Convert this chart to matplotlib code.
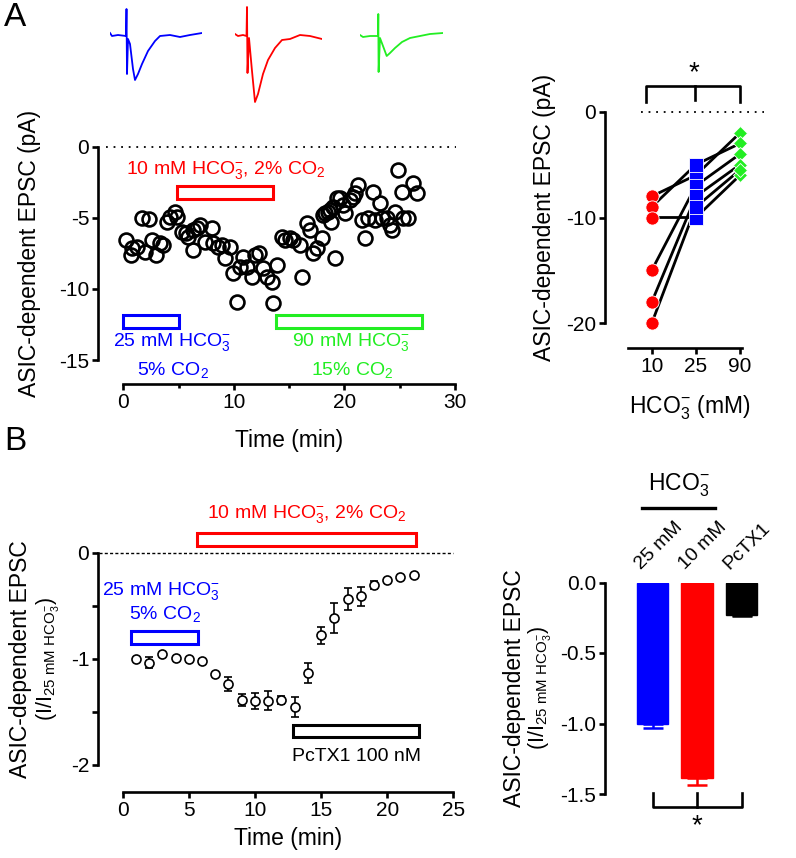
import numpy as np
import matplotlib.pyplot as plt
from matplotlib.patches import Rectangle
from matplotlib.ticker import MultipleLocator, FixedLocator, FormatStrFormatter

plt.rcParams['font.family'] = 'Liberation Sans'
plt.rcParams['mathtext.fontset'] = 'custom'
plt.rcParams['mathtext.rm'] = 'Liberation Sans'
plt.rcParams['mathtext.it'] = 'Liberation Sans:italic'
plt.rcParams['mathtext.default'] = 'regular'
plt.rcParams['axes.unicode_minus'] = False

BLUE = '#0000ff'
RED = '#ff0000'
GREEN = '#22ee22'
HCO3 = r'HCO$_3^{-}$'

# ---- Panel A: example traces (ms, pA) ----
trace_t_25 = [0, 2, 8, 16, 16.5, 17, 18, 20, 23, 25, 28, 32, 38, 45, 50, 60, 70, 80, 92]
trace_i_25 = [3, 0, 1, 0, 27, -38, -3, -8, -33, -44, -38, -28, -15, -5, 0, 1, -1, 1, 3]
trace_t_10 = [0, 3, 8, 11.5, 12, 12.5, 14, 17, 20, 23, 28, 33, 40, 47, 55, 65, 75, 87]
trace_i_10 = [2, 0, 1, 0, 29, -37, -2, -35, -66, -58, -38, -24, -12, -4, -3, 1, 0, -3]
trace_t_90 = [0, 3, 10, 18, 18.3, 18.6, 20, 23, 26.7, 30, 35, 42, 50, 60, 70, 83]
trace_i_90 = [1, -1, 0, 0, 22, -36, -2, -10, -20, -17, -12, -6, -2, 0, 2, 3]

# ---- Panel A: time course of one cell ----
time_a = [0.24, 0.67, 0.76, 1.21, 1.66, 1.96, 2.35, 2.57, 2.96, 3.32, 3.62, 3.92, 4.22, 4.67,
          4.88, 5.28, 5.67, 5.88, 6.27, 6.33, 6.64, 6.93, 7.39, 7.99, 8.14, 8.59, 8.9, 9.2,
          9.65, 9.95, 10.25, 10.55, 10.85, 11.16, 11.61, 11.9, 12.3, 12.66, 12.97, 13.42,
          13.56, 13.87, 14.32, 14.62, 15.07, 15.37, 15.98, 16.13, 16.58, 16.88, 17.18, 17.49,
          17.94, 18.08, 18.24, 18.54, 18.69, 18.75, 18.99, 19.14, 19.29, 19.59, 19.89, 20.05,
          20.5, 20.8, 20.95, 21.25, 21.56, 21.85, 22.15, 22.6, 22.76, 23.21, 23.36, 23.82,
          24.1, 24.27, 24.57, 24.86, 25.17, 25.32, 25.77, 26.22, 26.53]
epsc_a = [-6.56, -7.62, -7.14, -7.03, -5.04, -7.38, -5.11, -6.56, -7.62, -6.79, -6.91, -5.27,
          -4.92, -4.57, -4.92, -5.98, -6.09, -6.33, -7.26, -5.86, -5.74, -5.51, -6.68, -5.74,
          -6.79, -7.03, -6.91, -7.85, -7.03, -8.9, -10.9, -8.44, -7.74, -8.44, -9.14, -7.62,
          -7.5, -8.55, -9.14, -9.49, -11.01, -8.32, -6.33, -6.56, -6.44, -6.56, -6.91, -9.14,
          -5.39, -5.86, -7.5, -7.14, -6.44, -4.8, -4.68, -4.57, -4.45, -5.27, -4.22, -7.85,
          -3.63, -3.63, -4.1, -4.68, -3.75, -3.52, -3.28, -2.69, -5.15, -6.44, -5.04, -3.16,
          -5.15, -3.98, -5.04, -5.04, -5.5, -5.86, -4.57, -1.64, -3.16, -5.04, -5.04, -2.57,
          -3.28]

# ---- Panel A: paired cells at 10 / 25 / 90 mM HCO3- ----
hco3_labels = ['10', '25', '90']
cells_10 = [-8, -9, -10, -15, -18, -20]
cells_25 = [-6, -5, -10, -7, -8, -9]
cells_90 = [-2, -3, -6, -4, -5, -5.5]

# ---- Panel B: averaged time course ----
time_b = [1, 2, 3, 4, 5, 6, 7, 8, 9, 10, 11, 12, 13, 14, 15, 16, 17, 18, 19, 20, 21, 22]
norm_b = [-1.00, -1.035, -0.956, -0.994, -1.00, -1.016, -1.145, -1.236, -1.387, -1.40, -1.393,
          -1.387, -1.456, -1.135, -0.78, -0.616, -0.437, -0.412, -0.302, -0.261, -0.229, -0.208]
sem_b = [0.01, 0.05, 0.01, 0.01, 0.01, 0.01, 0.01, 0.063, 0.06, 0.075, 0.09, 0.04, 0.095, 0.097,
         0.08, 0.14, 0.10, 0.086, 0.036, 0.01, 0.01, 0.01]

# ---- Panel B: summary bars ----
bar_labels = ['25 mM', '10 mM', 'PcTX1']
bar_means = [-1.0, -1.39, -0.23]
bar_sems = [0.035, 0.047, 0.01]
bar_colors = [BLUE, RED, 'black']

W, H = 796, 858
TICK_FS = 15
LABEL_FS = 16.5


def box(x0, y0, x1, y1):
    return [x0 / W, 1 - y1 / H, (x1 - x0) / W, (y1 - y0) / H]


def prism(ax, left_px, bottom_px=None):
    for s in ['top', 'right']:
        ax.spines[s].set_visible(False)
    ax.spines['left'].set_position(('outward', left_px * 0.72))
    ax.spines['left'].set_linewidth(1.9)
    if bottom_px is None:
        ax.spines['bottom'].set_visible(False)
        ax.tick_params(axis='x', bottom=False, labelbottom=False)
    else:
        ax.spines['bottom'].set_position(('outward', bottom_px * 0.72))
        ax.spines['bottom'].set_linewidth(1.9)
    ax.tick_params(which='both', width=1.9, length=4.5, labelsize=TICK_FS, pad=2, color='black')
    ax.patch.set_alpha(0)


def ylab(x, y, s, size=LABEL_FS):
    fig.text(x / W, 1 - y / H, s, rotation=90, ha='center', va='center', fontsize=size)


def xlab(x, y, s, size=LABEL_FS):
    fig.text(x / W, 1 - y / H, s, ha='center', va='center', fontsize=size)


fig = plt.figure(figsize=(7.96, 8.58), dpi=100)

fig.text(15 / W, 1 - 18 / H, 'A', fontsize=24, ha='center', va='center')
fig.text(15 / W, 1 - 442 / H, 'B', fontsize=24, ha='center', va='center')

# traces
for (x0, x1), tt, ii, c in [((110, 202), trace_t_25, trace_i_25, BLUE),
                            ((235, 322), trace_t_10, trace_i_10, RED),
                            ((360, 443), trace_t_90, trace_i_90, GREEN)]:
    axt = fig.add_axes(box(x0, 3, x1, 105))
    axt.plot(tt, ii, color=c, lw=1.3)
    axt.set_xlim(0, max(tt))
    axt.set_ylim(-69, 33)
    axt.axis('off')

# ---- A left ----
ax = fig.add_axes(box(123.3, 146.7, 455, 360))
prism(ax, 25, 24)
ax.plot(time_a, epsc_a, 'o', ms=10, mfc='none', mec='black', mew=1.9, clip_on=False)
ax.plot([-1.6, 30.1], [0, 0], color='black', lw=1.3, ls=(0, (1, 3.2)), clip_on=False)
ax.set_xlim(0, 30)
ax.set_ylim(-15, 0)
ax.xaxis.set_major_locator(MultipleLocator(10))
ax.xaxis.set_minor_locator(FixedLocator([5, 15, 25]))
ax.tick_params(axis='x', which='minor', length=3)
ax.yaxis.set_major_locator(MultipleLocator(5))
for (t0, t1, y0, y1, c) in [(0, 5, -12.75, -11.85, BLUE), (4.85, 13.55, -3.7, -2.75, RED),
                            (13.85, 27.0, -12.75, -11.85, GREEN)]:
    ax.add_patch(Rectangle((t0, y0), t1 - t0, y1 - y0, fill=False, ec=c, lw=2.2, clip_on=False))
ax.text(9.3, -1.65, '10 mM ' + HCO3 + ', 2% CO$_2$', color=RED, fontsize=14, ha='center', va='center')
ax.text(4.4, -13.75, '25 mM ' + HCO3, color=BLUE, fontsize=14, ha='center', va='center')
ax.text(4.5, -15.7, '5% CO$_2$', color=BLUE, fontsize=14, ha='center', va='center', clip_on=False)
ax.text(20.6, -13.75, '90 mM ' + HCO3, color=GREEN, fontsize=14, ha='center', va='center')
ax.text(20.7, -15.7, '15% CO$_2$', color=GREEN, fontsize=14, ha='center', va='center', clip_on=False)
ylab(30, 253, 'ASIC-dependent EPSC (pA)')
xlab(289, 441, 'Time (min)')

# ---- A right ----
ax = fig.add_axes(box(628, 111.7, 742, 323.3))
prism(ax, 23, 24.4)
for r, b, g in zip(cells_10, cells_25, cells_90):
    ax.plot([1, 2, 3], [r, b, g], color='black', lw=2, zorder=2, clip_on=False)
ax.plot([1] * len(cells_10), cells_10, 'o', ms=9.5, color=RED, mec='white', mew=0.6, zorder=3, clip_on=False)
ax.plot([2] * len(cells_25), cells_25, 's', ms=9.5, color=BLUE, mec='white', mew=0.6, zorder=3, clip_on=False)
ax.plot([3] * len(cells_90), cells_90, 'D', ms=7.5, color=GREEN, mec='white', mew=0.6, zorder=3, clip_on=False)
ax.plot([0.75, 3.55], [0, 0], color='black', lw=1.3, ls=(0, (1, 3.2)), clip_on=False)
ax.plot([0.87, 0.87, 3, 3], [0.95, 2.43, 2.43, 0.95], color='black', lw=1.9, clip_on=False)
ax.plot([1.98, 1.98], [2.43, 1.1], color='black', lw=1.9, clip_on=False)
ax.text(1.95, 3.6, '*', fontsize=20, ha='center', va='center')
ax.set_xlim(0.463, 3.045)
ax.set_ylim(-20, 0)
ax.set_xticks([1, 2, 3])
ax.set_xticklabels(hco3_labels)
ax.yaxis.set_major_locator(MultipleLocator(10))
ylab(545, 217, 'ASIC-dependent EPSC (pA)')
xlab(690, 408, HCO3 + ' (mM)')

# ---- B left ----
ax = fig.add_axes(box(122.7, 552.7, 453.3, 765))
prism(ax, 24.4, 26.7)
ax.errorbar(time_b, norm_b, yerr=sem_b, fmt='o', ms=6.5, mfc='white', mec='black', mew=1.2,
            ecolor='black', elinewidth=1.2, capsize=3, capthick=1.2, clip_on=False)
ax.plot([-1.8, 25], [0, 0], color='black', lw=1, ls=(0, (2.2, 1.6)), clip_on=False)
ax.set_xlim(0, 25)
ax.set_ylim(-2, 0)
ax.xaxis.set_major_locator(MultipleLocator(5))
ax.yaxis.set_major_locator(MultipleLocator(1))
ax.yaxis.set_minor_locator(FixedLocator([-0.5, -1.5]))
ax.tick_params(axis='y', which='minor', length=4.5)
for (t0, t1, y0, y1, c) in [(0.6, 5.7, -0.86, -0.74, BLUE), (5.64, 22.2, 0.06, 0.19, RED),
                            (12.86, 22.4, -1.74, -1.62, 'black')]:
    ax.add_patch(Rectangle((t0, y0), t1 - t0, y1 - y0, fill=False, ec=c, lw=2.2, clip_on=False))
ax.text(13.9, 0.36, '10 mM ' + HCO3 + ', 2% CO$_2$', color=RED, fontsize=14, ha='center', va='center')
ax.text(2.9, -0.36, '25 mM ' + HCO3, color=BLUE, fontsize=14, ha='center', va='center')
ax.text(3.2, -0.58, '5% CO$_2$', color=BLUE, fontsize=14, ha='center', va='center')
ax.text(17.7, -1.92, 'PcTX1 100 nM', color='black', fontsize=14, ha='center', va='center')
ylab(21, 659, 'ASIC-dependent EPSC')
ylab(48, 659, '(I/I$_{25\\ mM\\ HCO_3^{-}}$)', size=15.5)
xlab(288, 839, 'Time (min)')

# ---- B right ----
ax = fig.add_axes(box(625.8, 582.5, 768.2, 794))
prism(ax, 20.8)
xpos = np.arange(len(bar_means))
ax.bar(xpos, bar_means, width=0.71, color=bar_colors, edgecolor=bar_colors, zorder=2)
for xp, m, s, c in zip(xpos, bar_means, bar_sems, bar_colors):
    ax.errorbar(xp, m, yerr=[[s], [0]], fmt='none', ecolor=c, elinewidth=1.8, capsize=7,
                capthick=1.8, zorder=1)
for xp, lab in zip(xpos, bar_labels):
    ax.text(xp - 0.2, 0.07, lab, rotation=45, rotation_mode='anchor', ha='left', va='bottom',
            fontsize=14)
ax.text(0.58, 0.69, HCO3, fontsize=LABEL_FS, ha='center', va='center')
ax.plot([-0.24, 1.40], [0.526, 0.526], color='black', lw=2.4, clip_on=False)
ax.plot([0, 0, 2, 2], [-1.49, -1.59, -1.59, -1.49], color='black', lw=1.9, clip_on=False)
ax.plot([1, 1], [-1.59, -1.49], color='black', lw=1.9, clip_on=False)
ax.text(1, -1.73, '*', fontsize=20, ha='center', va='center')
ax.set_xlim(-0.6, 2.6)
ax.set_ylim(-1.5, 0)
ax.yaxis.set_major_locator(MultipleLocator(0.5))
ax.yaxis.set_major_formatter(FormatStrFormatter('%.1f'))
ylab(514, 688, 'ASIC-dependent EPSC')
ylab(540, 688, '(I/I$_{25\\ mM\\ HCO_3^{-}}$)', size=15.5)

fig.savefig('out.png', dpi=100)
